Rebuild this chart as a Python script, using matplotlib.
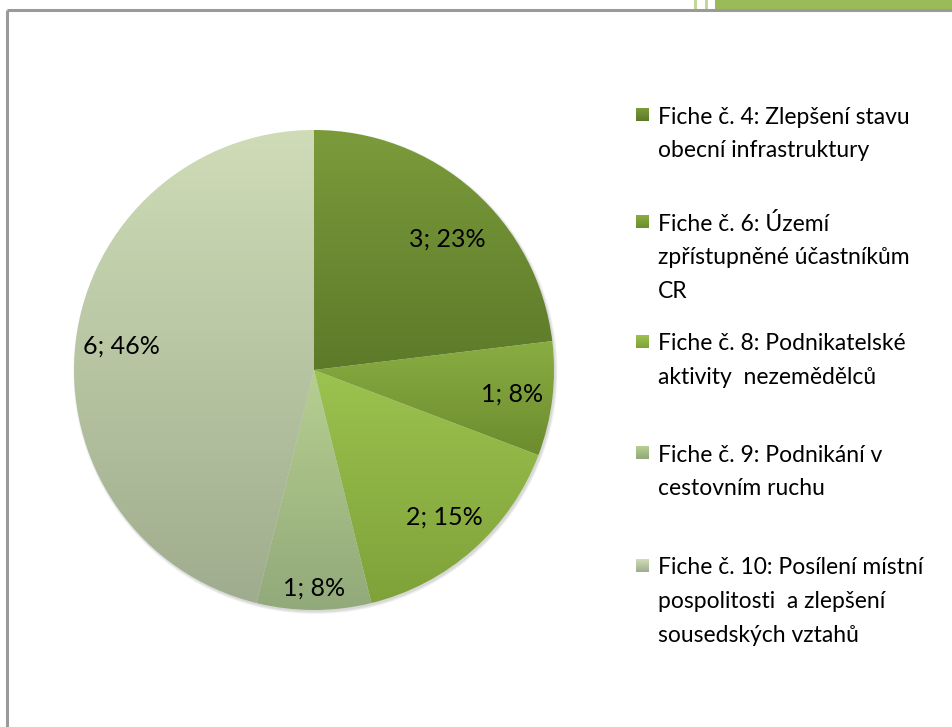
import numpy as np
import matplotlib
matplotlib.use("Agg")
import matplotlib.pyplot as plt
from matplotlib.colors import LinearSegmentedColormap
from matplotlib.patches import Rectangle, Circle

categories = [
    "Fiche č. 4: Zlepšení stavu\nobecní infrastruktury",
    "Fiche č. 6: Území\nzpřístupněné účastníkům\nCR",
    "Fiche č. 8: Podnikatelské\naktivity  nezemědělců",
    "Fiche č. 9: Podnikání v\ncestovním ruchu",
    "Fiche č. 10: Posílení místní\npospolitosti  a zlepšení\nsousedských vztahů",
]
values = [3, 1, 2, 1, 6]
top_colors = ["#7b9b3b", "#8aad42", "#9cc24f", "#b6cf90", "#cfdcb7"]
bottom_colors = ["#5d7a29", "#6c8c2e", "#7fa239", "#92a97a", "#9fad8e"]

FONT = ["Lato", "DejaVu Sans"]
plt.rcParams["font.family"] = FONT

W, H = 953, 727
fig = plt.figure(figsize=(W / 100, H / 100), dpi=100)

# frame decoration
deco = fig.add_axes([0, 0, 1, 1])
deco.set_xlim(0, W)
deco.set_ylim(H, 0)
deco.axis("off")
deco.plot([7, W], [10, 10], color="#9a9a9a", lw=2.2, solid_capstyle="butt")
deco.plot([7, 7], [10, H], color="#9a9a9a", lw=2.2, solid_capstyle="butt")
deco.add_patch(Rectangle((715, 0), W - 715, 9, color="#9bbb59", lw=0))
deco.add_patch(Rectangle((694, 0), 3, 9, color="#c3d69b", lw=0))
deco.add_patch(Rectangle((705, 0), 3, 9, color="#c3d69b", lw=0))

# pie
cx, cy, R = 314, 370, 240
M = 1.03
ax = fig.add_axes([(cx - M * R) / W, (H - cy - M * R) / H, 2 * M * R / W, 2 * M * R / H])

total = sum(values)
wedges, _ = ax.pie(values, startangle=90, counterclock=False, radius=1,
                   wedgeprops=dict(linewidth=0, facecolor="none"))
ax.set_aspect("equal")
ax.axis("off")

# soft shadow (lower right only)
for k in range(4):
    ax.add_patch(Circle((0.006, -0.008), 1.0 + 0.003 * k, facecolor="#000000",
                        edgecolor="none", alpha=0.04, zorder=1))

for i, w in enumerate(wedges):
    t1, t2 = np.deg2rad(w.theta1), np.deg2rad(w.theta2)
    th = np.linspace(t1, t2, 200)
    xs = np.concatenate([[0], np.cos(th)])
    ys = np.concatenate([[0], np.sin(th)])
    cmap = LinearSegmentedColormap.from_list("g%d" % i, [bottom_colors[i], top_colors[i]])
    grad = np.linspace(0, 1, 256).reshape(-1, 1)
    im = ax.imshow(grad, cmap=cmap, origin="lower", aspect="auto",
                   extent=[xs.min(), xs.max(), ys.min(), ys.max()], zorder=2,
                   interpolation="bilinear")
    im.set_clip_path(w)
ax.set_xlim(-M, M)
ax.set_ylim(-M, M)

# labels
cum = 0
dists = [0.78, 0.83, 0.82, 0.91, 0.81]
angle_shift = [-4, 0, 0, 0, 0]
for i, v in enumerate(values):
    mid = 90 - (cum + v / 2) / total * 360 + angle_shift[i]
    cum += v
    a = np.deg2rad(mid)
    pct = round(v / total * 100)
    ax.text(dists[i] * np.cos(a), dists[i] * np.sin(a), f"{v}; {pct}%",
            ha="center", va="center", fontsize=18, color="black", zorder=5)

# legend
legend_y = [115, 222, 342, 453, 566]
for i, (lab, y) in enumerate(zip(categories, legend_y)):
    cmap = LinearSegmentedColormap.from_list("l%d" % i, [top_colors[i], bottom_colors[i]])
    deco.imshow(np.linspace(0, 1, 32).reshape(-1, 1), cmap=cmap, aspect="auto",
                extent=[636, 649, y + 6.5, y - 6.5], origin="upper", zorder=3)
    for j, line in enumerate(lab.split("\n")):
        deco.text(658, y + 33.5 * j, line, ha="left", va="center_baseline",
                  fontsize=16.5, color="black")
deco.set_xlim(0, W)
deco.set_ylim(H, 0)

fig.savefig("out.png", dpi=100)
